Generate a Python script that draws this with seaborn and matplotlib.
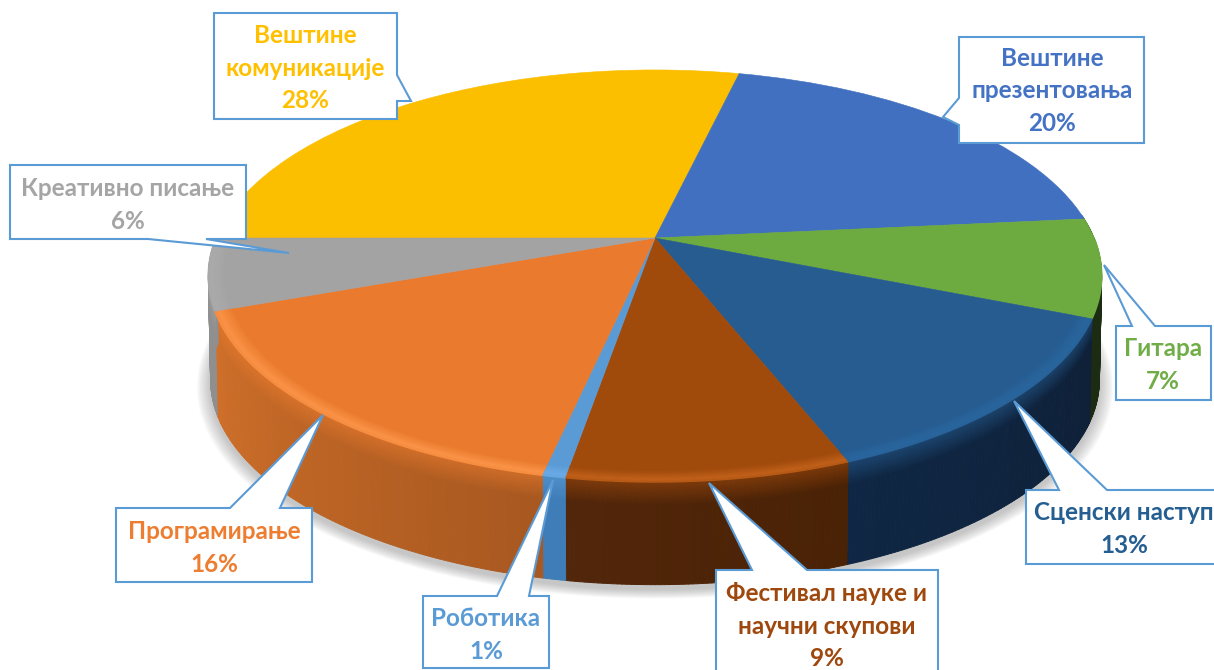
import numpy as np
import matplotlib
matplotlib.use("Agg")
import matplotlib.pyplot as plt
import seaborn as sns
from matplotlib.collections import PolyCollection
from matplotlib.colors import to_rgb
from matplotlib.patches import Polygon
from matplotlib.transforms import Transform

sns.set_theme(style="white")
plt.rcParams['font.family'] = ['Lato', 'Open Sans', 'DejaVu Sans']

# data, clockwise from the yellow slice
categories = ["Вештине\nкомуникације", "Вештине\nпрезентовања", "Гитара", "Сценски наступ",
              "Фестивал науке и\nнаучни скупови", "Роботика", "Програмирање", "Креативно писање"]
percent_labels = [28, 20, 7, 13, 9, 1, 16, 6]
# slice sizes as measured on the picture
slice_sizes = [28.6, 19.8, 7.7, 12.9, 8.6, 0.7, 16.0, 5.6]

# styles
top_colors = ["#FBBF00", "#4070BF", "#6DAA3F", "#265C90", "#A04A0C", "#5B9BD5", "#EA7B2E", "#A3A3A3"]
label_colors = ["#FFC000", "#4472C4", "#70AD47", "#255E91", "#9E480E", "#5B9BD5", "#ED7D31", "#A5A5A5"]
wall_left = ["#8A6A00", "#203A66", "#1C2C12", "#0F2744", "#52260A", "#3F7DB8", "#D0702A", "#8F8F8F"]
wall_right = ["#8A6A00", "#203A66", "#1C2C12", "#0F2038", "#4A2205", "#3F7DB8", "#A85820", "#8F8F8F"]
rim_colors = ["#FBBF00", "#4070BF", "#6DAA3F", "#29669E", "#C0601A", "#6AAAE6", "#FB9448", "#ABABAB"]

# layout in image pixels
start_angle = 180.0
centre_x, centre_y = 655, 238
scale_x, scale_y, tilt = 439, 199, 0.184
floor_y, floor_scale = 342, 0.995
label_centres = [(305, 68), (1052, 91), (1163, 365), (1124, 529), (827, 626), (486, 635), (214, 548), (128, 205)]
callout_outlines = [
    [(214, 13), (397, 13), (397, 75), (411, 101), (397, 101), (397, 119), (214, 119)],
    [(959, 37), (1144, 37), (1144, 143), (959, 143), (959, 125), (943, 117), (959, 98)],
    [(1116, 326), (1132, 326), (1104, 265), (1155, 326), (1211, 326), (1211, 400), (1116, 400)],
    [(1026, 490), (1059, 490), (1014, 401), (1107, 490), (1230, 490), (1230, 564), (1026, 564)],
    [(716, 570), (752, 570), (709, 483), (807, 570), (938, 570), (938, 690), (716, 690)],
    [(423, 596), (497, 596), (553, 480), (529, 596), (549, 596), (549, 668), (423, 668)],
    [(116, 508), (230, 508), (323, 415), (280, 508), (312, 508), (312, 582), (116, 582)],
    [(10, 165), (246, 165), (246, 239), (206, 239), (289, 253), (148, 239), (10, 239)],
]
callout_edge = "#5B9BD5"


def project(x, y, floor=False):
    """Map the unit disc of the pie on to the tilted disc of the picture."""
    x, y = np.asarray(x, float), np.asarray(y, float)
    w = 1 + tilt * y
    s, y0 = (floor_scale, floor_y) if floor else (1.0, centre_y)
    return centre_x + s * scale_x * x / w, y0 - s * scale_y * y / w


class TiltTransform(Transform):
    input_dims = output_dims = 2
    is_separable = False
    has_inverse = False

    def transform_non_affine(self, values):
        values = np.asarray(values, float)
        return np.column_stack(project(values[:, 0], values[:, 1]))


def blend(a, b, t):
    a, b = np.array(to_rgb(a)), np.array(to_rgb(b))
    return tuple(a + (b - a) * t)


fig = plt.figure(figsize=(12.14, 6.70), dpi=100)
ax = fig.add_axes([0, 0, 1, 1])

wedges, _ = ax.pie(slice_sizes, colors=sns.color_palette(top_colors), startangle=start_angle,
                   counterclock=False, wedgeprops=dict(linewidth=0.4))
ax.set_aspect("auto")
ax.set_xlim(0, 1214)
ax.set_ylim(670, 0)
ax.axis("off")

tilt_to_data = TiltTransform() + ax.transData
for wedge, colour in zip(wedges, top_colors):
    wedge.set_transform(tilt_to_data)
    wedge.set_edgecolor(colour)
    wedge.set_zorder(3)

# soft shadow under the floor circle
circle = np.radians(np.arange(0, 361, 2))
for grow in np.linspace(1.03, 1.0, 14):
    px, py = project(grow * np.cos(circle), grow * np.sin(circle), floor=True)
    ax.add_patch(Polygon(np.column_stack((px, py + 5)), closed=True, facecolor="#707070",
                         edgecolor="none", alpha=0.03, zorder=1))

# side wall and rim highlight, slice by slice
bands = np.r_[np.linspace(0, 0.22, 12), 1.0]
for i, wedge in enumerate(wedges):
    lo, hi = sorted((wedge.theta1, wedge.theta2))
    steps = np.radians(np.linspace(lo, hi, max(3, 2 * int(hi - lo) + 2)))
    steps = steps[np.sin(steps) < 0.12]
    if len(steps) < 2:
        continue
    cx, cy = np.cos(steps), np.sin(steps)
    topx, topy = project(cx, cy)
    botx, boty = project(cx, cy, floor=True)
    polys, cols = [], []
    for j in range(len(steps) - 1):
        base = blend(wall_left[i], wall_right[i], j / max(1, len(steps) - 2))
        for b0, b1 in zip(bands[:-1], bands[1:]):
            polys.append([(topx[j] + (botx[j] - topx[j]) * b0, topy[j] + (boty[j] - topy[j]) * b0),
                          (topx[j + 1] + (botx[j + 1] - topx[j + 1]) * b0, topy[j + 1] + (boty[j + 1] - topy[j + 1]) * b0),
                          (topx[j + 1] + (botx[j + 1] - topx[j + 1]) * b1, topy[j + 1] + (boty[j + 1] - topy[j + 1]) * b1),
                          (topx[j] + (botx[j] - topx[j]) * b1, topy[j] + (boty[j] - topy[j]) * b1)])
            glow = max(0.0, 0.55 * (1 - b0 / 0.22))
            cols.append(blend(base, top_colors[i], glow))
    ax.add_collection(PolyCollection(polys, facecolors=cols, edgecolors=cols, linewidths=0.7, zorder=2))

    below = steps[np.sin(steps) < 0.0]
    if len(below) > 1:
        for r in np.linspace(0.962, 1.0, 12):
            px, py = project(r * np.cos(below), r * np.sin(below))
            weight = max(0.0, 1 - abs(r - 0.992) / 0.03)
            ax.plot(px, py, color=blend(top_colors[i], rim_colors[i], weight), lw=1.2,
                    solid_capstyle="butt", zorder=4)

# callouts and labels
for outline in callout_outlines:
    ax.add_patch(Polygon(outline, closed=True, facecolor="white", edgecolor=callout_edge,
                         linewidth=1.5, joinstyle="miter", zorder=6))
for name, pct, colour, (lx, ly) in zip(categories, percent_labels, label_colors, label_centres):
    ax.text(lx, ly, f"{name}\n{pct}%", color=colour, ha="center", va="center", fontsize=17.5,
            fontweight="bold", linespacing=1.5, zorder=7)

fig.savefig("out.png", dpi=100, facecolor="white")
